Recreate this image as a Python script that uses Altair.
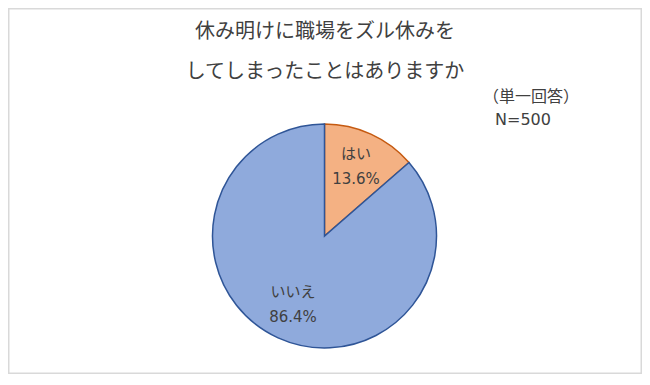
import altair as alt
import pandas as pd

categories = ["はい", "いいえ"]
values = [13.6, 86.4]
labels = ["はい\n13.6%", "いいえ\n86.4%"]
fills = ["#F4B183", "#8FAADC"]
strokes = ["#C55A11", "#2F5597"]

title_lines = ["休み明けに職場をズル休みを", "してしまったことはありますか"]
note_lines = ["（単一回答）", "N=500"]

FONT = "DejaVu Sans, Noto Sans CJK JP"
W, H = 634, 366
CX, CY = 316.5, 228

df = pd.DataFrame({
    "category": categories,
    "value": values,
    "label": labels,
    "order": list(range(len(categories))),
})

base = alt.Chart(df).encode(
    theta=alt.Theta("value:Q", stack=True),
    order=alt.Order("order:Q"),
    x=alt.value(CX),
    y=alt.value(CY),
)

pie = base.mark_arc(radius=112, strokeWidth=1.5).encode(
    color=alt.Color("category:N", scale=alt.Scale(domain=categories, range=fills), legend=None),
    stroke=alt.Stroke("category:N", scale=alt.Scale(domain=categories, range=strokes), legend=None),
)

text = base.mark_text(
    radius=76, lineBreak="\n", fontSize=15, lineHeight=25, font=FONT, color="#404040", dy=-13
).encode(text="label:N")

title_df = pd.DataFrame({"t": title_lines, "i": [0, 1]})
title = alt.Chart(title_df).mark_text(
    fontSize=20, font=FONT, color="#404040", align="center", baseline="middle"
).encode(
    text="t:N",
    x=alt.value(317),
    y=alt.Y("i:Q", axis=None, scale=alt.Scale(domain=[0, 1], range=[24, 64])),
)

note_df = pd.DataFrame({"t": note_lines, "i": [0, 1]})
note = alt.Chart(note_df).mark_text(
    fontSize=16, font=FONT, color="#404040", align="left", baseline="middle"
).encode(
    text="t:N",
    x=alt.X("i:Q", axis=None, scale=alt.Scale(domain=[0, 1], range=[475, 487])),
    y=alt.Y("i:Q", axis=None, scale=alt.Scale(domain=[0, 1], range=[89, 112])),
)

chart = alt.layer(pie, text, title, note).resolve_scale(
    x="independent", y="independent"
).properties(
    width=W, height=H, padding=0,
    autosize=alt.AutoSizeParams(type="fit", contains="padding"),
).configure_view(stroke="#D9D9D9", strokeWidth=3)

chart.save("out.html", embed_options={"renderer": "svg", "actions": False})
